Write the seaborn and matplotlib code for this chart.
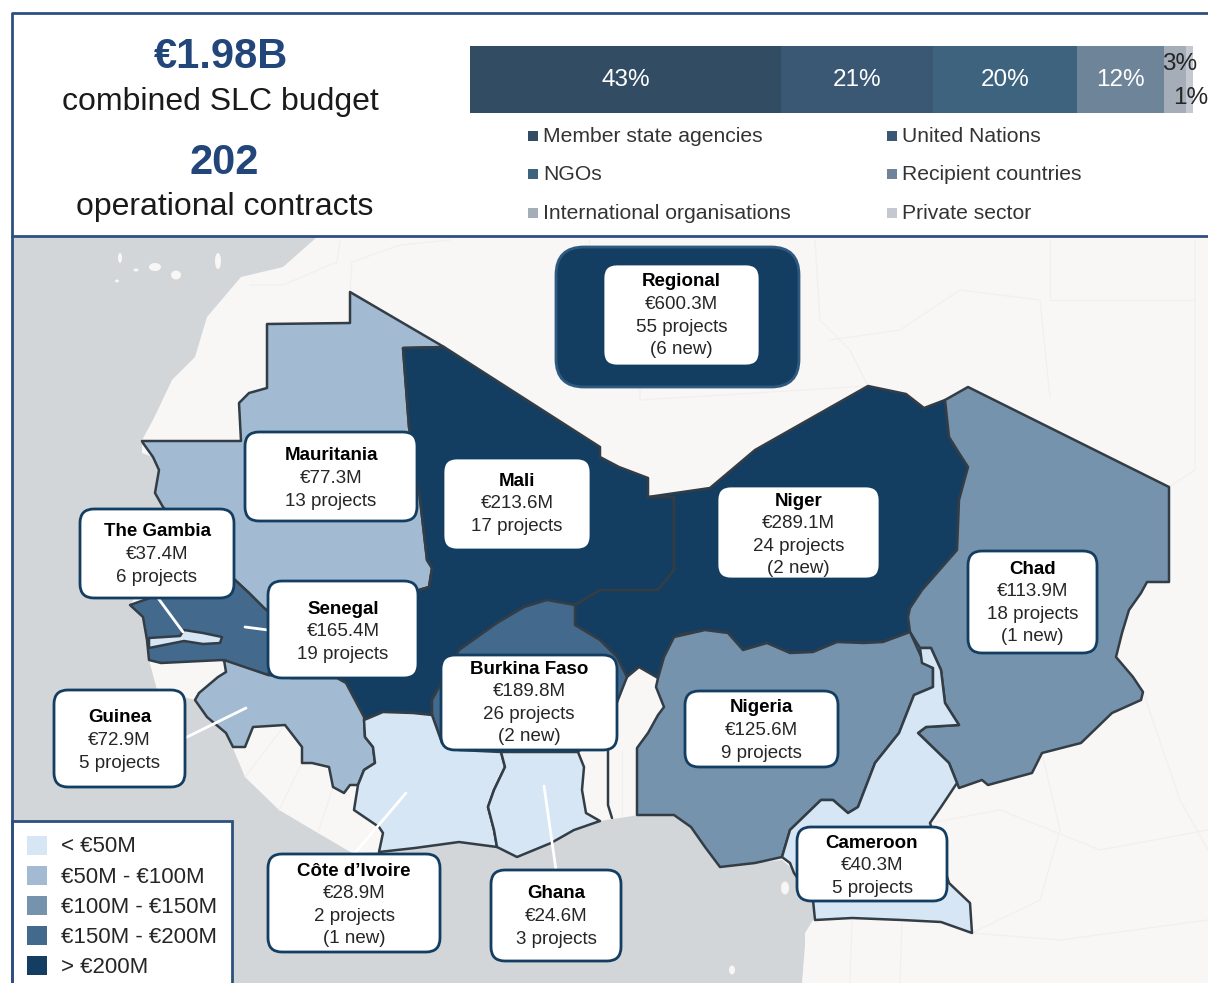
import numpy as np
import pandas as pd
import matplotlib.pyplot as plt
import seaborn as sns
from matplotlib.patches import Polygon, FancyBboxPatch, Rectangle, Ellipse

OUTPUT_IMAGE_PATH = 'out.png'

# Funding split by implementing partner
partner_names = ['Member state agencies', 'United Nations', 'NGOs', 'Recipient countries',
                 'International organisations', 'Private sector']
partner_shares = [43, 21, 20, 12, 3, 1]
partner_colors = ['#324d63', '#3a5874', '#3e637f', '#6e8499', '#a5adb8', '#c5c8d0']

# Country figures
countries = ['Mauritania', 'Mali', 'Niger', 'Chad', 'The Gambia', 'Senegal', 'Burkina Faso',
             'Nigeria', 'Guinea', 'Côte d’Ivoire', 'Ghana', 'Cameroon', 'Regional']
budgets = [77.3, 213.6, 289.1, 113.9, 37.4, 165.4, 189.8, 125.6, 72.9, 28.9, 24.6, 40.3, 600.3]
projects = [13, 17, 24, 18, 6, 19, 26, 9, 5, 2, 3, 5, 55]
new_projects = [0, 0, 2, 1, 0, 0, 2, 0, 0, 1, 0, 0, 6]

# Budget classes of the map
class_labels = ['< €50M', '€50M - €100M', '€100M - €150M', '€150M - €200M', '> €200M']
class_edges = [0, 50, 100, 150, 200, 1000]
class_colors = ['#d6e6f4', '#a2bbd2', '#7593ad', '#436a8d', '#143e61']

# Label boxes: x0, x1, y0, y1 in image pixels, and y of the first text line
box_geometry = {
    'Mauritania': (245, 417, 432, 521, 455),
    'Mali': (443, 591, 458, 550, 480),
    'Niger': (717, 880, 486, 579, 500),
    'Chad': (968, 1097, 551, 653, 568),
    'The Gambia': (80, 234, 509, 598, 531),
    'Senegal': (268, 418, 581, 678, 608),
    'Burkina Faso': (441, 617, 655, 750, 668),
    'Nigeria': (685, 838, 691, 767, 707),
    'Guinea': (54, 185, 690, 787, 717),
    'Côte d’Ivoire': (268, 440, 854, 952, 870),
    'Ghana': (491, 621, 870, 961, 893),
    'Cameroon': (797, 947, 827, 901, 842),
    'Regional': (603, 760, 264, 366, 281),
}

# Map outlines, traced in image pixels
land_shape = [(317, 237), (283, 267), (241, 277), (207, 317), (195, 357), (172, 380), (153, 420), (142, 440),
              (142, 453), (153, 457), (159, 470), (155, 493), (163, 507), (140, 590), (130, 605), (143, 617),
              (147, 640), (149, 660), (157, 690), (195, 700), (207, 717), (226, 733), (235, 753), (245, 777),
              (279, 810), (318, 833), (352, 853), (379, 852), (415, 848), (459, 842), (497, 847), (517, 857),
              (551, 843), (574, 830), (600, 821), (639, 815), (674, 815), (691, 827), (705, 847), (720, 867),
              (755, 863), (782, 860), (790, 867), (798, 877), (815, 900), (813, 920), (805, 933), (805, 945),
              (802, 983), (1208, 983), (1208, 237)]
shape_mauritania = [(350, 292), (444, 347), (403, 348), (409, 427), (417, 473), (427, 560), (432, 568), (429, 587),
                    (395, 597), (340, 625), (290, 630), (264, 608), (249, 593), (235, 580), (200, 545), (163, 507),
                    (155, 493), (159, 470), (153, 457), (143, 443), (142, 441), (241, 441), (239, 403), (249, 393),
                    (267, 388), (267, 324), (350, 323)]
shape_mali = [(403, 348), (444, 347), (600, 447), (600, 457), (619, 467), (648, 478), (648, 497), (674, 497),
              (674, 570), (658, 590), (600, 590), (575, 605), (547, 600), (524, 607), (497, 623), (459, 650),
              (432, 700), (432, 715), (413, 713), (383, 712), (364, 720), (346, 683), (337, 678), (291, 678),
              (268, 675), (280, 640), (290, 630), (340, 625), (395, 597), (429, 587), (432, 568), (427, 560),
              (417, 473), (409, 427)]
shape_niger = [(648, 497), (710, 488), (755, 450), (868, 386), (906, 394), (924, 408), (945, 400), (949, 437),
               (959, 453), (968, 467), (959, 500), (957, 550), (922, 590), (910, 608), (908, 617), (910, 632),
               (883, 642), (864, 643), (837, 642), (813, 652), (790, 653), (767, 643), (743, 650), (728, 633),
               (705, 630), (678, 635), (664, 657), (658, 678), (639, 667), (627, 677), (619, 683), (617, 657),
               (600, 640), (575, 625), (575, 605), (600, 590), (658, 590), (674, 570), (674, 497)]
shape_chad = [(945, 400), (968, 387), (1169, 487), (1169, 582), (1147, 582), (1141, 593), (1129, 610), (1122, 633),
              (1116, 657), (1133, 677), (1143, 692), (1141, 700), (1112, 713), (1081, 743), (1042, 753), (1032, 773),
              (988, 785), (982, 780), (959, 788), (949, 763), (918, 733), (926, 727), (959, 725), (945, 703),
              (941, 670), (931, 648), (920, 648), (910, 632), (908, 617), (910, 608), (922, 590), (957, 550),
              (959, 500), (968, 467), (959, 453), (949, 437)]
shape_senegal = [(130, 605), (150, 598), (235, 580), (249, 593), (264, 608), (290, 630), (280, 640), (268, 675),
                 (230, 663), (222, 660), (161, 663), (149, 660), (147, 640), (143, 617)]
shape_gambia = [(149, 638), (180, 636), (184, 630), (203, 633), (222, 637), (220, 643), (203, 644), (184, 641),
                (149, 648)]
shape_guinea = [(224, 660), (268, 675), (291, 678), (337, 678), (346, 683), (364, 717), (365, 737), (373, 747),
                (375, 763), (364, 770), (358, 785), (350, 785), (344, 793), (333, 787), (329, 767), (312, 763),
                (302, 763), (302, 747), (285, 725), (253, 727), (245, 747), (233, 747), (226, 733), (207, 717),
                (195, 700), (199, 693), (218, 677), (226, 672)]
shape_burkina = [(432, 715), (432, 700), (459, 650), (497, 623), (524, 607), (547, 600), (575, 605), (575, 625),
                 (600, 640), (617, 657), (627, 677), (610, 720), (578, 752), (501, 752), (459, 750), (442, 743)]
shape_ivory = [(364, 720), (383, 712), (413, 713), (432, 715), (442, 743), (459, 750), (501, 752), (505, 767),
               (494, 790), (488, 807), (494, 830), (497, 847), (459, 842), (415, 848), (379, 852), (383, 833),
               (379, 827), (354, 810), (358, 785), (364, 770), (375, 763), (373, 747), (365, 737)]
shape_ghana = [(501, 752), (578, 752), (584, 767), (582, 790), (586, 813), (600, 821), (574, 830), (551, 843),
               (517, 857), (497, 847), (494, 830), (488, 807), (494, 790), (505, 767)]
shape_nigeria = [(674, 637), (705, 630), (728, 633), (743, 650), (767, 643), (790, 653), (813, 652), (837, 642),
                 (864, 643), (883, 642), (910, 632), (924, 663), (933, 668), (933, 687), (914, 695), (899, 733),
                 (875, 763), (858, 807), (848, 813), (833, 800), (821, 800), (790, 830), (782, 857), (755, 863),
                 (720, 867), (705, 847), (691, 827), (674, 815), (637, 815), (637, 748), (648, 733), (658, 715),
                 (664, 707), (656, 687), (658, 678), (664, 657)]
shape_cameroon = [(920, 648), (931, 648), (941, 670), (945, 703), (959, 725), (926, 727), (918, 733), (949, 763),
                  (957, 783), (941, 807), (930, 823), (949, 883), (970, 903), (972, 933), (941, 922), (902, 920),
                  (852, 918), (815, 920), (813, 900), (794, 873), (790, 863), (782, 857), (790, 830), (821, 800),
                  (833, 800), (848, 813), (858, 807), (875, 763), (899, 733), (914, 695), (933, 687), (933, 668),
                  (922, 663)]

map_shapes = {'Mauritania': shape_mauritania, 'Mali': shape_mali, 'Niger': shape_niger, 'Chad': shape_chad,
              'Senegal': shape_senegal, 'The Gambia': shape_gambia, 'Guinea': shape_guinea,
              'Burkina Faso': shape_burkina, 'Côte d’Ivoire': shape_ivory, 'Ghana': shape_ghana,
              'Nigeria': shape_nigeria, 'Cameroon': shape_cameroon}

# Togo and Benin edges that are not part of a coloured shape
border_togo = [(608, 750), (608, 805), (612, 818)]

# Islands: x, y, width, height
islands = [(120, 258, 4, 10), (136, 270, 5, 3), (155, 267, 12, 8), (176, 275, 10, 9), (218, 261, 6, 16),
           (117, 281, 4, 3), (785, 888, 8, 13), (732, 970, 6, 9)]

# Faint borders of the countries outside the programme
faint_lines = [
    [(340, 240), (337, 262), (283, 285), (250, 285)],
    [(350, 292), (352, 262), (400, 245), (450, 240)],
    [(590, 240), (580, 300), (640, 360), (640, 400), (868, 386)],
    [(815, 240), (820, 320), (850, 350), (868, 386)],
    [(830, 340), (900, 330), (960, 290), (1040, 300), (1050, 397)],
    [(1050, 300), (1050, 240)],
    [(1195, 240), (1195, 470), (1169, 487)],
    [(1050, 300), (1195, 300)],
    [(1143, 692), (1180, 800), (1208, 850)],
    [(1042, 753), (1060, 830), (1040, 900), (972, 933)],
    [(930, 823), (1000, 810), (1100, 850), (1208, 830)],
    [(852, 918), (850, 983)],
    [(902, 920), (900, 983)],
    [(972, 933), (1060, 940), (1208, 920)],
    [(245, 777), (285, 725)],
    [(279, 810), (302, 763)],
    [(318, 833), (333, 787)],
    [(622, 750), (622, 815)],
]

# White leader lines from label to country
leader_lines = [[(158, 598), (183, 632)], [(245, 627), (268, 630)], [(185, 738), (246, 708)],
                [(354, 854), (406, 793)], [(556, 870), (544, 786)]]

NAVY = '#22467a'
FRAME = '#2e5080'
OCEAN = '#d2d6d9'
LAND = '#f8f7f6'
BORDER = '#333d46'


def class_color(budget):
    """Picks the map colour from the budget class."""
    idx = pd.cut([budget], bins=class_edges, labels=False)[0]
    return class_colors[idx]


def rounded_box(ax, x0, x1, y0, y1, face, edge, lw=2.0, radius=14, zorder=5):
    patch = FancyBboxPatch((x0, y0), x1 - x0, y1 - y0, boxstyle=f'round,pad=0,rounding_size={radius}',
                           facecolor=face, edgecolor=edge, linewidth=lw, zorder=zorder)
    ax.add_patch(patch)


def draw_share_bar(fig):
    """Stacked bar of partner shares."""
    bar_ax = fig.add_axes([470 / 1208, 1 - 113 / 983, 723 / 1208, 67 / 983], zorder=1)
    left = 0
    for share, color in zip(partner_shares, partner_colors):
        sns.barplot(x=[share], y=['budget'], left=left, color=color, width=1, saturation=1,
                    linewidth=0, edgecolor='none', ax=bar_ax)
        if share >= 12:
            bar_ax.text(left + share / 2, 0.01, f'{share}%', color='white', ha='center', va='center', fontsize=17.5)
        left += share
    bar_ax.set_xlim(0, 100)
    bar_ax.set_ylim(0.5, -0.5)
    bar_ax.axis('off')


def draw_map(ax):
    ax.add_patch(Rectangle((12, 236), 1196, 747, facecolor=OCEAN, edgecolor='none', zorder=0))
    ax.add_patch(Polygon(land_shape, closed=True, facecolor=LAND, edgecolor='none', zorder=1))
    for x, y, w, h in islands:
        ax.add_patch(Ellipse((x, y), w, h, facecolor=LAND, edgecolor='none', zorder=1))
    for line in faint_lines:
        pts = np.array(line)
        ax.plot(pts[:, 0], pts[:, 1], color='#f2f0ef', linewidth=0.9, zorder=1.5)

    budget_by_country = dict(zip(countries, budgets))
    for name, shape in map_shapes.items():
        ax.add_patch(Polygon(shape, closed=True, facecolor=class_color(budget_by_country[name]),
                             edgecolor=BORDER, linewidth=1.8, joinstyle='round', zorder=2))
    pts = np.array(border_togo)
    ax.plot(pts[:, 0], pts[:, 1], color=BORDER, linewidth=1.8, zorder=2)

    for line in leader_lines:
        pts = np.array(line)
        ax.plot(pts[:, 0], pts[:, 1], color='white', linewidth=2, zorder=3)


def draw_labels(ax):
    rounded_box(ax, 556, 799, 247, 387, class_color(budgets[-1]), '#2f5a80', radius=28, zorder=4)
    for name, budget, count, new in zip(countries, budgets, projects, new_projects):
        x0, x1, y0, y1, first_y = box_geometry[name]
        rounded_box(ax, x0, x1, y0, y1, 'white', '#143e61', radius=14)
        lines = [f'€{budget}M', f'{count} projects']
        if new:
            lines.append(f'({new} new)')
        cx = (x0 + x1) / 2
        ax.text(cx, first_y + 1, name, fontsize=13.5, fontweight='bold', color='black',
                ha='center', va='center', zorder=6)
        for i, line in enumerate(lines):
            ax.text(cx, first_y + 1 + 22.6 * (i + 1), line, fontsize=13.5, color='#262626',
                    ha='center', va='center', zorder=6)


def draw_class_legend(ax):
    ax.add_patch(Rectangle((12, 821), 220, 170, facecolor='white', edgecolor=FRAME, linewidth=2, zorder=7))
    for i, (label, color) in enumerate(zip(class_labels, class_colors)):
        y = 845.5 + 30.1 * i
        ax.add_patch(Rectangle((27, y - 9.5), 20, 19, facecolor=color, edgecolor='none', zorder=8))
        ax.text(61, y + 1.5, label, fontsize=16, color='#262626', ha='left', va='center', zorder=8)


def draw_header(ax):
    ax.text(221, 57, '€1.98B', fontsize=30, fontweight='bold', color=NAVY, ha='center', va='center')
    ax.text(220, 102, 'combined SLC budget', fontsize=23, color='#1a1a1a', ha='center', va='center')
    ax.text(224, 163, '202', fontsize=30, fontweight='bold', color=NAVY, ha='center', va='center')
    ax.text(225, 207, 'operational contracts', fontsize=23, color='#1a1a1a', ha='center', va='center')

    # Small shares sit outside the bar segments
    ax.text(1180, 64, f'{partner_shares[4]}%', fontsize=17.5, color='#262626', ha='center', va='center', zorder=9)
    ax.text(1191, 98, f'{partner_shares[5]}%', fontsize=17.5, color='#262626', ha='center', va='center', zorder=9)

    for i, (name, color) in enumerate(zip(partner_names, partner_colors)):
        col, row = i % 2, i // 2
        x = 528 + 359 * col
        y = 135.5 + 38.5 * row
        ax.add_patch(Rectangle((x, y - 5), 10, 10, facecolor=color, edgecolor='none'))
        ax.text(x + 15, y + 1, name, fontsize=15.2, color='#333333', ha='left', va='center')

    # Frame of the header
    ax.plot([1208, 12, 12], [13, 13, 983], color=FRAME, linewidth=2, zorder=10)
    ax.plot([12, 1208], [236, 236], color=FRAME, linewidth=2, zorder=10)


def main():
    sns.set_theme(style='white')
    plt.rcParams['font.family'] = ['Liberation Sans', 'DejaVu Sans']

    fig = plt.figure(figsize=(12.08, 9.83), dpi=100)
    ax = fig.add_axes([0, 0, 1, 1], zorder=2)
    ax.set_xlim(0, 1208)
    ax.set_ylim(983, 0)
    ax.axis('off')

    draw_map(ax)
    draw_labels(ax)
    draw_class_legend(ax)
    draw_header(ax)
    draw_share_bar(fig)

    fig.savefig(OUTPUT_IMAGE_PATH, dpi=100)
    plt.close(fig)


if __name__ == '__main__':
    main()
